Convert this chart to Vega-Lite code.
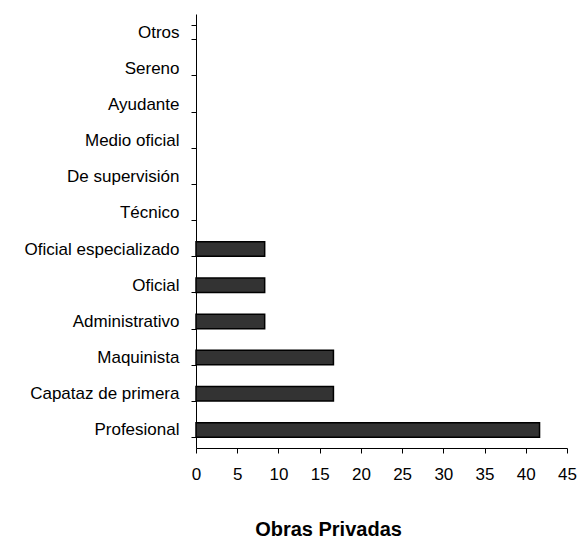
{
  "$schema": "https://vega.github.io/schema/vega-lite/v6.json",
  "autosize": {"type": "none"},
  "width": 371,
  "height": 434,
  "padding": {"left": 196, "top": 14, "right": 12, "bottom": 90},
  "background": "white",
  "data": {
    "values": [
      {"categoria": "Otros", "valor": 0},
      {"categoria": "Sereno", "valor": 0},
      {"categoria": "Ayudante", "valor": 0},
      {"categoria": "Medio oficial", "valor": 0},
      {"categoria": "De supervisión", "valor": 0},
      {"categoria": "Técnico", "valor": 0},
      {"categoria": "Oficial especializado", "valor": 8.33},
      {"categoria": "Oficial", "valor": 8.33},
      {"categoria": "Administrativo", "valor": 8.33},
      {"categoria": "Maquinista", "valor": 16.67},
      {"categoria": "Capataz de primera", "valor": 16.67},
      {"categoria": "Profesional", "valor": 41.67}
    ]
  },
  "mark": {"type": "bar", "fill": "#333333", "stroke": "#000000", "strokeWidth": 1.5},
  "encoding": {
    "strokeOpacity": {"condition": {"test": "datum.valor > 0", "value": 1}, "value": 0},
    "y": {
      "field": "categoria",
      "type": "nominal",
      "sort": null,
      "scale": {"paddingInner": 0.6, "paddingOuter": 0.3},
      "axis": {
        "title": null,
        "tickBand": "extent",
        "domainColor": "#000000",
        "tickColor": "#000000",
        "tickSize": 5,
        "labelPadding": 12,
        "labelFont": "Liberation Sans",
        "labelFontSize": 17,
        "labelColor": "#000000",
        "labelLimit": 250,
        "grid": false
      }
    },
    "x": {
      "field": "valor",
      "type": "quantitative",
      "scale": {"domain": [0, 45], "nice": false},
      "axis": {
        "title": "Obras Privadas",
        "values": [0, 5, 10, 15, 20, 25, 30, 35, 40, 45],
        "grid": false,
        "domainColor": "#000000",
        "tickColor": "#000000",
        "tickSize": 5,
        "labelPadding": 13,
        "labelFont": "Liberation Sans",
        "labelFontSize": 17,
        "labelColor": "#000000",
        "labelFlush": false,
        "titleFont": "Liberation Sans",
        "titleFontSize": 20,
        "titleFontWeight": "bold",
        "titleColor": "#000000",
        "titleX": 132,
        "titleY": 87,
        "titleAlign": "center",
        "titleBaseline": "alphabetic",
        "titleAnchor": null
      }
    }
  },
  "config": {"view": {"stroke": null}}
}
